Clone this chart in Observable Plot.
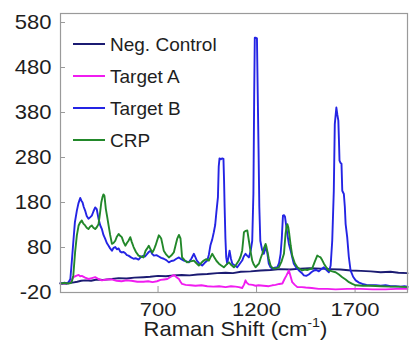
<!DOCTYPE html>
<html><head><meta charset="utf-8">
<script src="https://cdn.jsdelivr.net/npm/d3@7"></script>
<script src="https://cdn.jsdelivr.net/npm/@observablehq/plot@0.6"></script>
<style>
html,body{margin:0;padding:0;background:#fff;}
#chart{position:relative;width:409px;height:346px;overflow:hidden;}
</style></head><body><div id="chart"></div>
<script>
const seriesNames = ["Neg. Control", "Target A", "Target B", "CRP"];
const seriesColors = ["#1b1b72", "#f01cf0", "#2424e4", "#22882a"];
const xTicks = [700, 1200, 1700];
const yTicks = [-20, 80, 180, 280, 380, 480, 580];
const xLabel = "Raman Shift (cm";
const xLabelSup = "-1";

// [Raman shift (cm-1), intensity]
const negControl = [[205,0],[230,0],[250,1],[266,2],[290,4],[310,6],[330,7],[360,6],[390,9],[420,8],[466,10],[500,12],[540,11],[580,13],[626,14],[660,15],[700,17],[740,16],[780,18],[820,19],[860,18],[900,20],[950,21],[1000,23],[1043,24],[1080,23],[1120,26],[1170,27],[1220,29],[1271,30],[1320,32],[1370,31],[1423,33],[1470,34],[1525,33],[1570,32],[1626,31],[1680,29],[1730,28],[1780,27],[1830,25],[1880,26],[1920,24],[1966,23]];

const targetA = [[205,0],[235,0],[246,1],[255,4],[261,7],[271,14],[284,17],[297,19],[305,16],[313,17],[330,13],[347,10],[364,12],[381,14],[398,10],[415,7],[440,9],[464,9],[490,6],[515,5],[540,7],[565,6],[595,4],[626,4],[650,5],[672,3],[695,5],[713,8],[730,9],[747,10],[765,15],[780,19],[787,17],[794,14],[806,10],[814,4],[822,-1],[840,-3],[865,-4],[890,-5],[920,-4],[950,-6],[980,-7],[1010,-6],[1043,-8],[1070,-6],[1093,-7],[1110,-8],[1127,-10],[1137,-2],[1144,7],[1150,2],[1160,-2],[1180,-3],[1195,-5],[1210,-4],[1235,-5],[1262,-6],[1280,-4],[1296,-3],[1315,-1],[1331,0],[1342,10],[1352,18],[1364,29],[1370,20],[1381,3],[1394,-3],[1407,-8],[1430,-8],[1449,-9],[1480,-10],[1515,-12],[1560,-12],[1601,-13],[1660,-12],[1728,-12],[1790,-13],[1855,-13],[1910,-12],[1966,-12]];

const targetB = [[205,1],[215,0],[225,2],[236,0],[246,3],[255,10],[262,47],[270,92],[278,136],[288,162],[296,178],[305,190],[311,184],[317,180],[323,170],[330,162],[338,150],[347,144],[355,147],[364,151],[372,160],[381,169],[389,165],[398,144],[406,130],[415,121],[423,108],[432,99],[440,90],[449,84],[457,78],[466,73],[474,79],[483,81],[491,76],[500,78],[508,71],[516,69],[525,70],[534,67],[542,63],[550,62],[563,58],[576,55],[588,56],[601,53],[611,58],[622,61],[634,60],[645,66],[653,70],[662,73],[670,66],[679,62],[692,63],[704,60],[716,57],[729,55],[742,52],[755,47],[767,50],[780,51],[793,55],[806,58],[818,54],[831,51],[844,49],[856,47],[869,55],[882,66],[890,58],[897,51],[910,44],[924,40],[937,46],[950,51],[958,64],[966,85],[975,98],[983,114],[990,130],[996,158],[1004,192],[1008,260],[1012,278],[1019,276],[1026,278],[1032,277],[1035,230],[1038,169],[1042,100],[1046,58],[1051,44],[1057,58],[1063,73],[1070,55],[1077,44],[1090,40],[1102,36],[1115,44],[1127,51],[1135,60],[1144,66],[1152,62],[1161,58],[1170,72],[1178,95],[1184,200],[1188,420],[1191,546],[1197,546],[1202,545],[1206,420],[1210,300],[1214,170],[1219,95],[1228,75],[1237,66],[1246,80],[1254,70],[1262,44],[1271,36],[1280,33],[1292,35],[1305,36],[1314,45],[1322,66],[1328,100],[1334,151],[1339,152],[1344,149],[1350,130],[1356,110],[1364,88],[1373,73],[1381,58],[1389,44],[1402,35],[1415,29],[1428,24],[1440,18],[1452,17],[1465,20],[1478,25],[1491,29],[1503,30],[1516,27],[1529,32],[1542,36],[1555,30],[1567,25],[1576,40],[1584,95],[1592,206],[1597,354],[1605,391],[1610,375],[1615,362],[1618,320],[1621,273],[1626,268],[1631,266],[1635,206],[1643,199],[1648,170],[1652,132],[1660,103],[1668,60],[1677,29],[1690,15],[1703,7],[1720,2],[1737,-1],[1758,-3],[1779,-4],[1805,-4],[1830,-5],[1855,-4],[1880,-6],[1905,-6],[1931,-7],[1950,-6],[1966,-7]];

const crp = [[205,0],[225,1],[245,0],[256,1],[263,5],[270,18],[279,69],[288,107],[297,129],[305,136],[313,140],[321,133],[330,129],[338,124],[347,121],[355,126],[364,129],[372,124],[381,121],[389,125],[398,132],[406,158],[412,180],[418,192],[423,198],[428,195],[435,166],[442,148],[449,129],[457,108],[466,88],[474,90],[483,95],[491,104],[500,110],[508,106],[516,103],[525,92],[534,84],[542,90],[550,95],[559,103],[567,92],[576,81],[588,70],[601,62],[613,60],[626,58],[637,73],[645,78],[653,84],[662,76],[671,69],[679,75],[687,84],[695,95],[704,107],[710,104],[716,100],[722,88],[729,73],[742,64],[755,58],[767,62],[780,69],[789,85],[797,99],[806,108],[814,100],[818,80],[822,58],[835,52],[847,47],[865,49],[882,51],[895,45],[907,40],[920,46],[932,51],[945,54],[958,51],[966,58],[975,66],[986,58],[997,50],[1009,44],[1021,40],[1034,36],[1047,42],[1060,47],[1072,41],[1085,36],[1097,42],[1110,51],[1119,60],[1127,73],[1132,95],[1136,114],[1145,117],[1153,118],[1161,95],[1170,70],[1178,51],[1186,42],[1195,36],[1203,40],[1212,44],[1220,55],[1229,66],[1237,78],[1246,88],[1250,82],[1254,73],[1262,55],[1271,40],[1280,35],[1288,33],[1300,34],[1313,36],[1326,48],[1339,66],[1347,110],[1352,125],[1356,132],[1361,125],[1366,110],[1373,85],[1381,62],[1394,45],[1407,36],[1420,32],[1432,29],[1445,31],[1457,30],[1470,32],[1482,33],[1495,48],[1508,62],[1516,60],[1525,58],[1533,52],[1542,44],[1555,35],[1567,29],[1584,27],[1601,25],[1618,20],[1635,14],[1652,9],[1669,3],[1686,-1],[1703,-4],[1740,-5],[1779,-5],[1830,-6],[1880,-7],[1920,-7],[1966,-8]];

const seriesData = [negControl, targetA, targetB, crp];

const rows = [];
seriesData.forEach((arr, i) => arr.forEach(([shift, value]) => rows.push({series: seriesNames[i], shift, value})));

const W = 409, H = 346, mT = 13, mL = 60, mR = 2, mB = 54;
const frameW = W - mL - mR, frameH = H - mT - mB;
const font = "'Liberation Sans', Arial, Helvetica, sans-serif";

const chart = Plot.plot({
  width: W, height: H,
  marginTop: mT, marginLeft: mL, marginRight: mR, marginBottom: mB,
  style: {fontFamily: font, fontSize: "19px", color: "#1e1e1e", background: "#fff", overflow: "visible"},
  x: {domain: [205, 1966], label: null},
  y: {domain: [-20, 600], label: null},
  color: {domain: seriesNames, range: seriesColors},
  marks: [
    Plot.axisX({ticks: xTicks, tickFormat: d => String(d), tickSize: 0, tickPadding: 10, label: null, fontSize: 19}),
    Plot.axisY({ticks: yTicks, tickFormat: d => String(d), tickSize: 0, tickPadding: 9, label: null, fontSize: 20}),
    Plot.tickX(xTicks, {x: d => d, stroke: "#9a9a9a", insetTop: frameH - 6}),
    Plot.tickY(yTicks, {y: d => d, stroke: "#9a9a9a", insetRight: frameW - 5}),
    Plot.line(rows, {x: "shift", y: "value", z: "series", stroke: "series", strokeWidth: 1.9, strokeLinejoin: "round"}),
    Plot.frame({stroke: "#9a9a9a", strokeWidth: 1.2})
  ]
});

document.getElementById("chart").appendChild(chart);
const svg = d3.select(chart);

function stretch(el, s) {
  const t = el.getAttribute("transform") || "";
  const x = +el.getAttribute("x") || 0, y = +el.getAttribute("y") || 0;
  el.setAttribute("transform", `${t} translate(${x},${y}) scale(${s},1) translate(${-x},${-y})`);
}
chart.querySelectorAll('[aria-label="x-axis tick label"] text').forEach(el => stretch(el, 1.16));
chart.querySelectorAll('[aria-label="y-axis tick label"] text').forEach(el => stretch(el, 1.1));

// axis title with superscript
const title = svg.append("text")
  .attr("x", 0).attr("y", 0)
  .attr("transform", "translate(235.5,336) scale(1.1,1)")
  .attr("text-anchor", "middle")
  .attr("font-family", font).attr("font-size", 20).attr("fill", "#1e1e1e");
title.append("tspan").text(xLabel);
title.append("tspan").attr("font-size", 13).attr("dy", -9).text(xLabelSup);
title.append("tspan").attr("dy", 9).text(")");

// legend
const legY = [44, 76, 108, 140];
const leg = svg.append("g").attr("font-family", font).attr("font-size", 19).attr("text-anchor", "start");
seriesNames.forEach((name, i) => {
  leg.append("line").attr("x1", 73).attr("x2", 105).attr("y1", legY[i]).attr("y2", legY[i])
    .attr("stroke", seriesColors[i]).attr("stroke-width", 2);
  leg.append("text").attr("x", 110).attr("y", legY[i]).attr("dy", "0.35em")
    .attr("text-anchor", "start").attr("fill", "#1e1e1e").text(name);
});
</script>
</body></html>
